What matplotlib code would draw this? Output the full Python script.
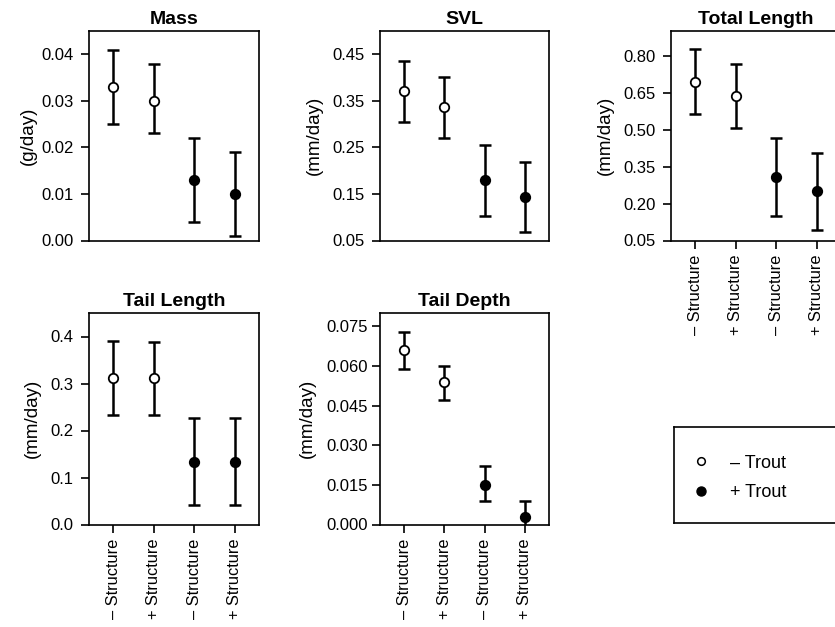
import numpy as np
import matplotlib.pyplot as plt
from matplotlib.lines import Line2D

plt.rcParams['font.family'] = ['Liberation Sans', 'DejaVu Sans']

# group order: -Structure/-Trout, +Structure/-Trout, -Structure/+Trout, +Structure/+Trout
groups = ["\u2013 Structure", "+ Structure", "\u2013 Structure", "+ Structure"]
trout = [False, False, True, True]

mass_mean = [0.033, 0.030, 0.013, 0.010]
mass_lo = [0.025, 0.023, 0.004, 0.001]
mass_hi = [0.041, 0.038, 0.022, 0.019]

svl_mean = [0.371, 0.336, 0.179, 0.143]
svl_lo = [0.305, 0.270, 0.103, 0.068]
svl_hi = [0.436, 0.401, 0.256, 0.219]

total_mean = [0.694, 0.636, 0.309, 0.251]
total_lo = [0.564, 0.506, 0.150, 0.093]
total_hi = [0.827, 0.768, 0.467, 0.407]

tail_len_mean = [0.311, 0.311, 0.133, 0.133]
tail_len_lo = [0.233, 0.233, 0.041, 0.041]
tail_len_hi = [0.391, 0.389, 0.227, 0.227]

tail_dep_mean = [0.066, 0.054, 0.015, 0.003]
tail_dep_lo = [0.059, 0.047, 0.009, -0.003]
tail_dep_hi = [0.073, 0.060, 0.022, 0.009]

W, H = 835, 627
fig = plt.figure(figsize=(W / 100, H / 100), dpi=100)


def add_axes(left, top, right, bottom):
    return fig.add_axes([left / W, 1 - bottom / H, (right - left) / W, (bottom - top) / H])


def panel(ax, title, ylabel, mean, lo, hi, ylim, yticks, yfmt, xlabels, ypad=5, lpad=7):
    x = np.arange(1, 5)
    mean = np.array(mean)
    err = np.vstack([mean - np.array(lo), np.array(hi) - mean])
    ax.errorbar(x, mean, yerr=err, fmt='none', ecolor='black',
                elinewidth=1.8, capsize=4.5, capthick=1.8, zorder=2)
    for xi, m, t in zip(x, mean, trout):
        ax.plot(xi, m, 'o', ms=6.8, mec='black', mew=1.3,
                mfc='black' if t else 'white', zorder=3)
    ax.set_xlim(0.4, 4.6)
    ax.set_ylim(*ylim)
    ax.set_yticks(yticks)
    ax.set_yticklabels([yfmt.format(v) for v in yticks])
    ax.set_title(title, fontsize=14, fontweight='bold', pad=5)
    ax.set_ylabel(ylabel, fontsize=13.5, labelpad=lpad)
    ax.tick_params(axis='y', direction='out', length=6, width=1.2, labelsize=12, pad=ypad)
    if xlabels:
        ax.set_xticks(x)
        ax.set_xticklabels(groups, rotation=90, fontsize=11.8)
        ax.tick_params(axis='x', direction='out', length=6, width=1.2, pad=4)
    else:
        ax.set_xticks([])
    for s in ax.spines.values():
        s.set_linewidth(1.2)


ax1 = add_axes(89, 31, 259, 240.5)
panel(ax1, "Mass", "(g/day)", mass_mean, mass_lo, mass_hi,
      (0, 0.045), [0.0, 0.01, 0.02, 0.03, 0.04], "{:.2f}", False, lpad=3)

ax2 = add_axes(380, 31, 549, 240.5)
panel(ax2, "SVL", "(mm/day)", svl_mean, svl_lo, svl_hi,
      (0.05, 0.5), [0.05, 0.15, 0.25, 0.35, 0.45], "{:.2f}", False)

ax3 = add_axes(671, 31, 841, 240.5)
panel(ax3, "Total Length", "(mm/day)", total_mean, total_lo, total_hi,
      (0.05, 0.9), [0.05, 0.20, 0.35, 0.50, 0.65, 0.80], "{:.2f}", True)

ax4 = add_axes(89, 313, 259, 524.5)
panel(ax4, "Tail Length", "(mm/day)", tail_len_mean, tail_len_lo, tail_len_hi,
      (0, 0.45), [0.0, 0.1, 0.2, 0.3, 0.4], "{:.1f}", True)

ax5 = add_axes(380, 313, 549, 524.5)
panel(ax5, "Tail Depth", "(mm/day)", tail_dep_mean, tail_dep_lo, tail_dep_hi,
      (0, 0.08), [0.0, 0.015, 0.030, 0.045, 0.060, 0.075], "{:.3f}", True, ypad=3)

# legend box, runs off the right edge like the original
lax = add_axes(674, 427, 850, 523)
lax.set_xticks([])
lax.set_yticks([])
for s in lax.spines.values():
    s.set_linewidth(1.2)
handles = [
    Line2D([], [], ls='none', marker='o', ms=5.5, mec='black', mfc='white', mew=1.1),
    Line2D([], [], ls='none', marker='o', ms=6.5, mec='black', mfc='black'),
]
lax.legend(handles, ["\u2013 Trout", "+ Trout"], loc='center left',
           bbox_to_anchor=(0, 0.47), frameon=False,
           fontsize=13, handlelength=1.2, handletextpad=1.0, labelspacing=0.7,
           borderaxespad=0.5)

fig.savefig("out.png", dpi=100)
